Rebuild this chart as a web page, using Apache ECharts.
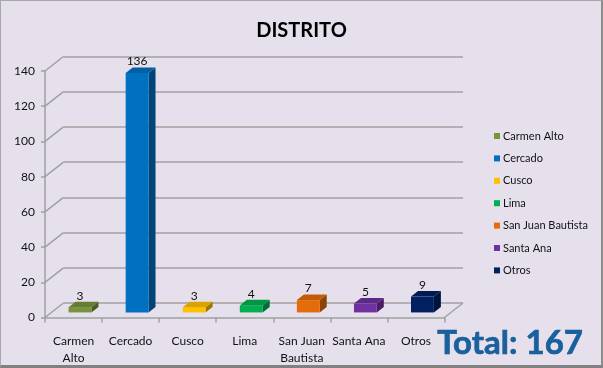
<!DOCTYPE html>
<html><head><meta charset="utf-8">
<script src="https://cdn.jsdelivr.net/npm/echarts@6/dist/echarts.min.js"></script>
<style>
html,body{margin:0;padding:0;background:#E6E0EC;}
#wrap{position:relative;width:603px;height:368px;}
#c{position:absolute;left:0;top:0;width:603px;height:368px;}
#frame{position:absolute;left:0;top:0;width:603px;height:368px;box-sizing:border-box;border-top:1px solid #a8a8a8;border-left:1px solid #a8a8a8;border-right:2px solid #8c8c8c;border-bottom:3px solid #808080;pointer-events:none;}
</style></head>
<body><div id="wrap"><div id="c"></div><div id="frame"></div></div>
<script>
// ---- data ----
const categories = ['Carmen Alto','Cercado','Cusco','Lima','San Juan Bautista','Santa Ana','Otros'];
const axisLabels = ['Carmen\nAlto','Cercado','Cusco','Lima','San Juan\nBautista','Santa Ana','Otros'];
const values = [3,136,3,4,7,5,9];
const colors = ['#77933C','#0070C0','#FFC000','#00B050','#E46C0A','#7030A0','#002060'];
const yTicks = [0,20,40,60,80,100,120,140];
const titleText = 'DISTRITO';

// ---- style constants ----
const FONT = 'Lato, "Open Sans", sans-serif';
const DX = 18.5, DY = -14.5;     // 3D depth offset of the back wall
const F0 = 0.35, F1 = 0.73;      // bar depth span (fraction of full depth)
const LINE = '#a0a0a0';

function shade(hex, k) {
  const n = parseInt(hex.slice(1), 16);
  let r = (n >> 16) & 255, g = (n >> 8) & 255, b = n & 255;
  r = Math.round(r * k); g = Math.round(g * k); b = Math.round(b * k);
  return 'rgb(' + Math.min(255,r) + ',' + Math.min(255,g) + ',' + Math.min(255,b) + ')';
}

function renderBar(params, api) {
  const idx = api.value(0), v = api.value(1);
  const base = api.coord([idx, 0]);
  const top = api.coord([idx, v]);
  const cw = api.size([1, 0])[0];
  const hw = cw * 0.2;
  const fx = DX * F0, fy = DY * F0;
  const dx = DX * (F1 - F0), dy = DY * (F1 - F0);
  const xl = base[0] - hw + fx, xr = base[0] + hw + fx;
  const yb = base[1] + fy, yt = top[1] + fy;
  const c = colors[idx];
  return {
    type: 'group',
    children: [
      { type: 'polygon', shape: { points: [[xr,yt],[xr+dx,yt+dy],[xr+dx,yb+dy],[xr,yb]] },
        style: { fill: shade(c, 0.62) } },
      { type: 'polygon', shape: { points: [[xl,yt],[xr,yt],[xr,yb],[xl,yb]] },
        style: { fill: c } },
      { type: 'polygon', shape: { points: [[xl,yt],[xl+dx,yt+dy],[xr+dx,yt+dy],[xr,yt]] },
        style: { fill: shade(c, 0.85) } },
      { type: 'text', style: { x: (xl + xr) / 2, y: yt + dy - 6, text: String(v),
        align: 'center', verticalAlign: 'middle', fill: '#111', font: '12px ' + FONT } }
    ]
  };
}

function renderFrame(params, api) {
  const cs = params.coordSys;
  const p = api.coord([0, api.value(1)]);
  const y = p[1];
  const children = [
    { type: 'line', shape: { x1: cs.x, y1: y, x2: cs.x + DX, y2: y + DY },
      style: { stroke: LINE, lineWidth: 1.5 } }
  ];
  if (params.dataIndex === 0) {
    children.push({ type: 'line', shape: { x1: cs.x + cs.width, y1: y, x2: cs.x + cs.width + DX, y2: y + DY },
      style: { stroke: LINE, lineWidth: 1.5 } });
  }
  return { type: 'group', children };
}

const total = values.reduce((a, b) => a + b, 0);
const chart = echarts.init(document.getElementById('c'), null, { renderer: 'canvas' });

const series = [
  { type: 'custom', name: '_frame', xAxisIndex: 0, yAxisIndex: 0, z: 1,
    encode: { x: 0, y: 1 }, data: yTicks.map(v => [0, v]), renderItem: renderFrame, silent: true }
];
categories.forEach((name, i) => {
  series.push({ type: 'custom', name: name, xAxisIndex: 0, yAxisIndex: 0, z: 10,
    itemStyle: { color: colors[i] }, encode: { x: 0, y: 1 },
    data: [[i, values[i]]], renderItem: renderBar });
});

const yMax = yTicks[yTicks.length - 1];
const yInt = yTicks[1] - yTicks[0];

chart.setOption({
  animation: false,
  backgroundColor: '#E6E0EC',
  title: { text: titleText, left: 'center', top: 16,
    textStyle: { fontFamily: FONT, fontSize: 20, fontWeight: 'bold', color: '#000' } },
  legend: {
    data: categories, orient: 'vertical', left: 489, top: 124,
    icon: 'rect', itemWidth: 6, itemHeight: 6, itemGap: 8.4,
    textStyle: { fontFamily: FONT, fontSize: 11, color: '#111', lineHeight: 14, padding: [0, 0, 0, -2] }
  },
  grid: [
    { left: 45, top: 71, width: 399.5, height: 246.5 },
    { left: 45 + DX, top: 71 + DY, width: 399.5, height: 246.5 }
  ],
  xAxis: [
    { type: 'category', gridIndex: 0, data: axisLabels,
      axisLine: { lineStyle: { color: LINE, width: 1.5 } },
      axisTick: { show: true, length: 5, lineStyle: { color: LINE, width: 1.5 } },
      axisLabel: { margin: 15, fontFamily: FONT, fontSize: 12, color: '#111', lineHeight: 17, interval: 0 },
      splitLine: { show: false } },
    { type: 'category', gridIndex: 1, data: axisLabels, show: false }
  ],
  yAxis: [
    { type: 'value', gridIndex: 0, min: 0, max: yMax, interval: yInt,
      axisLine: { show: true, lineStyle: { color: LINE, width: 1.5 } },
      axisTick: { show: true, length: 4, lineStyle: { color: LINE, width: 1.5 } },
      axisLabel: { margin: 10, fontFamily: FONT, fontSize: 12, color: '#111' },
      splitLine: { show: false } },
    { type: 'value', gridIndex: 1, min: 0, max: yMax, interval: yInt,
      axisLine: { show: false }, axisTick: { show: false }, axisLabel: { show: false },
      splitLine: { show: true, lineStyle: { color: LINE, width: 1.6 } } }
  ],
  graphic: [
    { type: 'text', left: 437, top: 327, z: 100,
      style: { text: 'Total: ' + total, font: 'bold 33px ' + FONT, fill: '#17619f',
        stroke: '#0d4a80', lineWidth: 0.6,
        shadowColor: 'rgba(0,0,0,0.45)', shadowBlur: 3, shadowOffsetX: 2, shadowOffsetY: 2 } }
  ],
  series: series
});
</script>
</body></html>
